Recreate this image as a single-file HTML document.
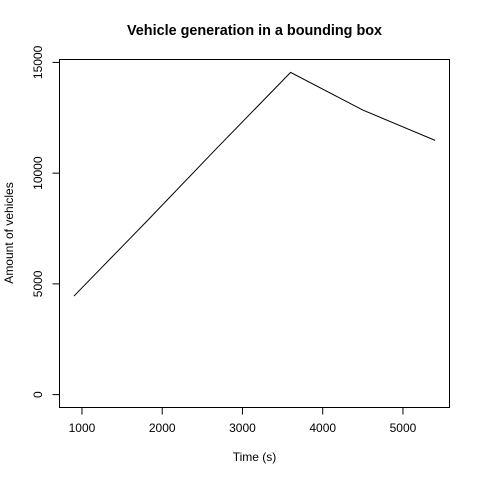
<!DOCTYPE html>
<html><head><meta charset="utf-8"><style>
body{margin:0;background:#fff;}
svg text{font-family:"Liberation Sans",sans-serif;fill:#000;}
</style></head><body>
<svg id="chart" width="480" height="480" xmlns="http://www.w3.org/2000/svg">
<rect width="480" height="480" fill="#fff"/>
<text x="254.5" y="35" text-anchor="middle" font-size="14.4" font-weight="bold">Vehicle generation in a bounding box</text>
<text x="254.5" y="461" text-anchor="middle" font-size="12">Time (s)</text>
<text transform="translate(13,233) rotate(-90)" text-anchor="middle" font-size="12">Amount of vehicles</text>
<rect x="59.5" y="59.5" width="390" height="348" fill="none" stroke="#000" stroke-width="1"/>
<g id="xaxis"></g>
<g id="yaxis"></g>
<g id="series"></g>
</svg>
<script>
const times = [900, 1800, 2700, 3600, 4500, 5400];
const vehicles = [4450, 7800, 11200, 14550, 12850, 11480];
const xTicks = [1000, 2000, 3000, 4000, 5000];
const yTicks = [0, 5000, 10000, 15000];

const L=59.5,R=449.5,T=59.5,B=407.5;
const xmin=Math.min(...times),xmax=Math.max(...times),xp=(xmax-xmin)*0.04;
const ymaxD=Math.max(...vehicles),yminD=Math.min(0,...vehicles),yp=(ymaxD-yminD)*0.04;
const x0=xmin-xp,x1=xmax+xp,y0=yminD-yp,y1=ymaxD+yp;
function sx(v){return L+(v-x0)/(x1-x0)*(R-L);}
function sy(v){return B-(v-y0)/(y1-y0)*(B-T);}
const NS="http://www.w3.org/2000/svg";
function mk(tag,attrs,parent){const e=document.createElementNS(NS,tag);for(const k in attrs)e.setAttribute(k,attrs[k]);parent.appendChild(e);return e;}
const xa=document.getElementById('xaxis'),ya=document.getElementById('yaxis'),sg=document.getElementById('series');
mk('line',{x1:sx(xTicks[0]),x2:sx(xTicks[xTicks.length-1]),y1:B,y2:B,stroke:'#000'},xa);
xTicks.forEach(t=>{
  const l=mk('line',{x1:sx(t),x2:sx(t),y1:B,y2:B+7,stroke:'#000'},xa);
  
  
  const tx=mk('text',{x:sx(t),y:432,'text-anchor':'middle','font-size':12},xa);
  tx.textContent=t;
  
  
});
mk('line',{x1:L,x2:L,y1:sy(yTicks[0]),y2:sy(yTicks[yTicks.length-1]),stroke:'#000'},ya);
yTicks.forEach(t=>{
  const l=mk('line',{x1:L-7,x2:L,y1:sy(t),y2:sy(t),stroke:'#000'},ya);
  
  
  const tx=mk('text',{transform:`translate(42,${sy(t)}) rotate(-90)`,'text-anchor':'middle','font-size':12},ya);
  tx.textContent=t;
  
  
});
const pl=mk('polyline',{points:times.map((t,i)=>sx(t)+','+sy(vehicles[i])).join(' '),fill:'none',stroke:'#000','stroke-width':1},sg);


</script>
</body></html>
